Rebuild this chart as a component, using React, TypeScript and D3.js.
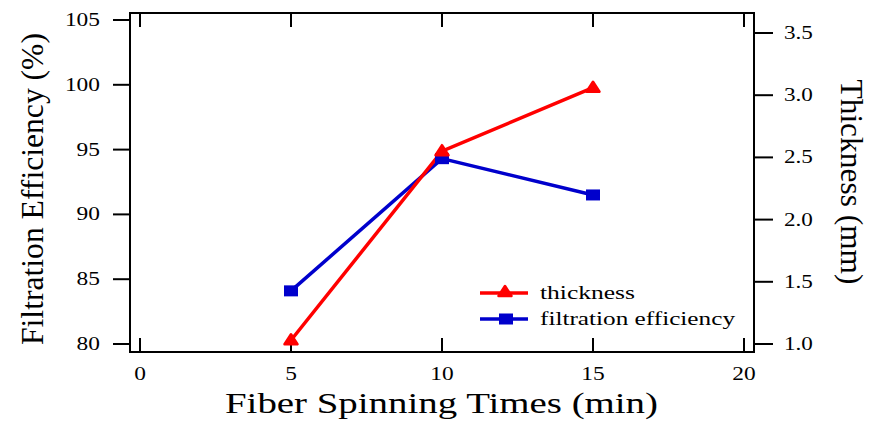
import React, { useEffect, useRef } from "react";
import * as d3 from "d3";

// data
const spinTimes = [5, 10, 15];
const thickness = [1.03, 2.55, 3.06]; // mm, right axis
const filtration = [84.1, 94.3, 91.5]; // %, left axis

const xTicks = [0, 5, 10, 15, 20];
const leftTicks = [80, 85, 90, 95, 100, 105];
const rightTicks = [1.0, 1.5, 2.0, 2.5, 3.0, 3.5];

const RED = "#ff0000";
const BLUE = "#0000cc";
const FONT = "Liberation Serif";

// frame of the plot
const frame = { left: 130, right: 754, top: 13, bottom: 352 };

// the original is stretched horizontally, so widen the text to fit
const charW = (s: string) =>
  s.split("").reduce((w, c) => w + (c === "." ? 5.5 : 11.7), 0);

export default function App() {
  const ref = useRef<SVGSVGElement>(null);

  useEffect(() => {
    const svg = d3.select(ref.current);
    svg.selectAll("*").remove();

    const x = d3.scaleLinear().domain([0, 20]).range([140, 744]);
    const yLeft = d3.scaleLinear().domain([80, 105]).range([344, 20]);
    const yRight = d3.scaleLinear().domain([1.0, 3.5]).range([344, 33]);

    const g = svg.append("g").style("font-family", FONT);

    const label = (s: string, size: number) =>
      g.append("text").style("font-family", FONT).attr("font-size", size).text(s);

    // frame
    g.append("rect")
      .attr("x", frame.left)
      .attr("y", frame.top)
      .attr("width", frame.right - frame.left)
      .attr("height", frame.bottom - frame.top)
      .attr("fill", "none")
      .attr("stroke", "#000")
      .attr("stroke-width", 2);

    // x ticks, inward on bottom and top
    xTicks.forEach((t) => {
      g.append("line")
        .attr("x1", x(t)).attr("x2", x(t))
        .attr("y1", frame.bottom).attr("y2", frame.bottom - 14)
        .attr("stroke", "#000").attr("stroke-width", 2);
      g.append("line")
        .attr("x1", x(t)).attr("x2", x(t))
        .attr("y1", frame.top).attr("y2", frame.top + 14)
        .attr("stroke", "#000").attr("stroke-width", 2);
      const s = String(t);
      label(s, 18)
        .attr("x", x(t))
        .attr("y", 380)
        .attr("text-anchor", "middle")
        .attr("textLength", charW(s))
        .attr("lengthAdjust", "spacingAndGlyphs");
    });

    // left ticks, outward
    leftTicks.forEach((t) => {
      g.append("line")
        .attr("x1", frame.left - 17).attr("x2", frame.left)
        .attr("y1", yLeft(t)).attr("y2", yLeft(t))
        .attr("stroke", "#000").attr("stroke-width", 2);
      const s = String(t);
      label(s, 18)
        .attr("x", 100)
        .attr("y", yLeft(t) + 6)
        .attr("text-anchor", "end")
        .attr("textLength", charW(s))
        .attr("lengthAdjust", "spacingAndGlyphs");
    });

    // right ticks, outward
    rightTicks.forEach((t) => {
      g.append("line")
        .attr("x1", frame.right).attr("x2", frame.right + 19)
        .attr("y1", yRight(t)).attr("y2", yRight(t))
        .attr("stroke", "#000").attr("stroke-width", 2);
      const s = t.toFixed(1);
      label(s, 18)
        .attr("x", 784)
        .attr("y", yRight(t) + 6)
        .attr("textLength", charW(s))
        .attr("lengthAdjust", "spacingAndGlyphs");
    });

    // axis titles
    label("Fiber Spinning Times (min)", 30)
      .attr("x", 225)
      .attr("y", 413)
      .attr("textLength", 433)
      .attr("lengthAdjust", "spacingAndGlyphs");

    label("Filtration Efficiency (%)", 31)
      .attr("transform", "translate(43,189) rotate(-90)")
      .attr("text-anchor", "middle")
      .attr("textLength", 312)
      .attr("lengthAdjust", "spacingAndGlyphs");

    label("Thickness (mm)", 31)
      .attr("transform", "translate(841,182) rotate(90)")
      .attr("text-anchor", "middle")
      .attr("textLength", 205)
      .attr("lengthAdjust", "spacingAndGlyphs");

    // markers
    const triangle = (cx: number, cy: number) =>
      `M${cx},${cy - 6}L${cx + 6.5},${cy + 4}L${cx - 6.5},${cy + 4}Z`;
    const drawTri = (cx: number, cy: number) =>
      g.append("path")
        .attr("d", triangle(cx, cy))
        .attr("fill", RED)
        .attr("stroke", RED)
        .attr("stroke-width", 2.5)
        .attr("stroke-linejoin", "round");
    const drawSq = (cx: number, cy: number) =>
      g.append("rect")
        .attr("x", cx - 7).attr("y", cy - 5.5)
        .attr("width", 14).attr("height", 11)
        .attr("fill", BLUE);

    // filtration efficiency line
    const blueLine = d3.line<number>()
      .x((_, i) => x(spinTimes[i]))
      .y((d) => yLeft(d));
    g.append("path")
      .attr("d", blueLine(filtration))
      .attr("fill", "none")
      .attr("stroke", BLUE)
      .attr("stroke-width", 3.5);

    // thickness line
    const redLine = d3.line<number>()
      .x((_, i) => x(spinTimes[i]))
      .y((d) => yRight(d));
    g.append("path")
      .attr("d", redLine(thickness))
      .attr("fill", "none")
      .attr("stroke", RED)
      .attr("stroke-width", 3.5);

    filtration.forEach((d, i) => drawSq(x(spinTimes[i]), yLeft(d)));
    thickness.forEach((d, i) => drawTri(x(spinTimes[i]), yRight(d)));

    // legend
    const legend = [
      { label: "thickness", color: RED, y: 293, width: 95, tri: true },
      { label: "filtration efficiency", color: BLUE, y: 319, width: 195, tri: false },
    ];
    legend.forEach((l) => {
      g.append("line")
        .attr("x1", 480).attr("x2", 528)
        .attr("y1", l.y).attr("y2", l.y)
        .attr("stroke", l.color).attr("stroke-width", 3.5);
      if (l.tri) drawTri(505, l.y - 1);
      else drawSq(506, l.y);
      label(l.label, 18)
        .attr("x", 540)
        .attr("y", l.y + 6)
        .attr("textLength", l.width)
        .attr("lengthAdjust", "spacingAndGlyphs");
    });
  }, []);

  return (
    <svg
      ref={ref}
      width={870}
      height={430}
      style={{ position: "absolute", left: 0, top: 0, background: "#fff" }}
    />
  );
}
